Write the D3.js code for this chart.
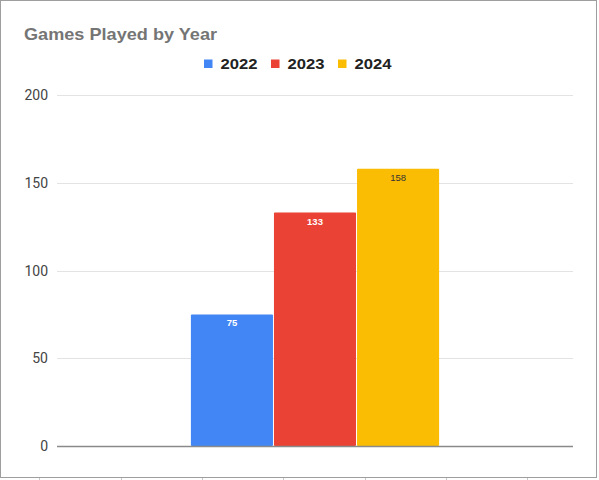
<!DOCTYPE html>
<html>
<head>
<meta charset="utf-8">
<script src="https://cdn.jsdelivr.net/npm/d3@7"></script>
<style>
  body { margin: 0; background: #fff; }
  svg { display: block; font-family: Arial, "Liberation Sans", sans-serif; }
</style>
</head>
<body>
<div id="chart"></div>
<script>
var years = ["2022", "2023", "2024"];
var games = [75, 133, 158];
var colors = ["#4285f4", "#ea4335", "#fbbc04"];
var labelColors = ["#ffffff", "#ffffff", "#333333"];
var yTicks = [0, 50, 100, 150, 200];

var W = 599, H = 480;
var margin = {top: 95, right: 26, bottom: 34, left: 57},
    width = W - margin.left - margin.right,
    height = H - margin.top - margin.bottom;

var root = d3.select("#chart").append("svg")
    .attr("width", W)
    .attr("height", H);

// outer frame
root.append("rect")
    .attr("x", 0.5).attr("y", 0.5)
    .attr("width", 596).attr("height", 477)
    .attr("fill", "#fff")
    .attr("stroke", "#9e9e9e");

// tiny cell ticks below the frame
root.selectAll("line.cell")
    .data([39, 121, 202, 283, 365, 446, 527])
    .enter().append("line")
    .attr("x1", function (d) { return d + 0.5; })
    .attr("x2", function (d) { return d + 0.5; })
    .attr("y1", 478).attr("y2", 480)
    .attr("stroke", "#c8c8c8");

root.append("text")
    .attr("x", 24).attr("y", 39.5)
    .attr("fill", "#757575")
    .attr("textLength", 193)
    .attr("lengthAdjust", "spacingAndGlyphs")
    .style("font-size", "17px")
    .style("font-weight", "bold")
    .text("Games Played by Year");

// legend
var legendX = [204, 271, 338];
var leg = root.selectAll("g.legend")
    .data(years)
    .enter().append("g")
    .attr("transform", function (d, i) { return "translate(" + legendX[i] + ",59.5)"; });
leg.append("rect")
    .attr("width", 8.5).attr("height", 8.5)
    .attr("fill", function (d, i) { return colors[i]; });
leg.append("text")
    .attr("x", 16.5).attr("y", 9)
    .attr("fill", "#222")
    .attr("textLength", 37)
    .attr("lengthAdjust", "spacingAndGlyphs")
    .style("font-size", "14px")
    .style("font-weight", "bold")
    .text(function (d) { return d; });

var svg = root.append("g")
    .attr("transform", "translate(" + margin.left + "," + margin.top + ")");

var y = d3.scaleLinear()
    .domain([0, 200])
    .range([height, 0]);

var x = d3.scaleBand()
    .domain(years)
    .range([width * 0.2595, width * 0.7405])
    .paddingInner(0.012);

// gridlines
svg.selectAll("line.grid")
    .data(yTicks.slice(1))
    .enter().append("line")
    .attr("x1", 0).attr("x2", width)
    .attr("y1", function (d) { return Math.round(y(d)) + 0.5; })
    .attr("y2", function (d) { return Math.round(y(d)) + 0.5; })
    .attr("stroke", "#e3e3e3");

svg.selectAll("text.ytick")
    .data(yTicks)
    .enter().append("text")
    .attr("x", -9)
    .attr("y", function (d) { return y(d); })
    .attr("dy", "0.36em")
    .attr("text-anchor", "end")
    .attr("fill", "#444")
    .style("font-family", "Roboto, Arial, sans-serif")
    .style("font-size", "14px")
    .text(function (d) { return d; });

svg.selectAll("rect.bar")
    .data(games)
    .enter().append("rect")
    .attr("x", function (d, i) { return x(years[i]); })
    .attr("y", function (d) { return y(d); })
    .attr("width", x.bandwidth())
    .attr("height", function (d) { return height - y(d); })
    .attr("fill", function (d, i) { return colors[i]; })
    .attr("rx", 1);

svg.selectAll("text.val")
    .data(games)
    .enter().append("text")
    .attr("x", function (d, i) { return x(years[i]) + x.bandwidth() / 2; })
    .attr("y", function (d) { return y(d) + 12; })
    .attr("text-anchor", "middle")
    .attr("fill", function (d, i) { return labelColors[i]; })
    .style("font-size", "9.5px")
    .style("font-weight", function (d, i) { return i < 2 ? "bold" : "normal"; })
    .text(function (d) { return d; });

// baseline
svg.append("line")
    .attr("x1", 0).attr("x2", width)
    .attr("y1", height + 0.5).attr("y2", height + 0.5)
    .attr("stroke", "#8a8a8a")
    .attr("stroke-width", 1.3);
</script>
</body>
</html>
